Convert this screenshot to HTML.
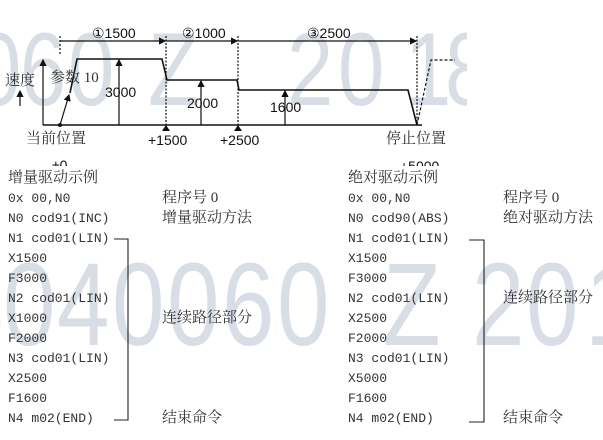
<!DOCTYPE html>
<html><head><meta charset="utf-8"><style>
html,body{margin:0;padding:0;background:#fff;}
body{width:603px;height:440px;overflow:hidden;position:relative;}
svg{position:absolute;left:0;top:0;}
.m{font-family:"Liberation Mono","Noto Sans CJK SC",monospace;font-size:13px;fill:#333;}
.c{font-family:"Liberation Serif","Noto Serif CJK SC",serif;font-size:15px;fill:#333;}
.d{font-family:"Liberation Sans",sans-serif;font-size:14px;fill:#111;}
.w{font-family:"Liberation Sans",sans-serif;fill:#d9dee6;}
</style></head><body>
<svg width="603" height="440" viewBox="0 0 603 440">
<defs><clipPath id="cp"><rect x="0" y="0" width="467" height="166"/></clipPath>
<marker id="ar" viewBox="0 0 6 6" refX="5" refY="3" markerWidth="6" markerHeight="6" orient="auto"><path d="M0,0L6,3L0,6z" fill="#111"/></marker></defs>
<g clip-path="url(#cp)" class="w" font-size="104">
<text transform="translate(-25,105) scale(0.8,1)">0</text>
<text transform="translate(20,105) scale(0.8,1)">6</text>
<text transform="translate(68,105) scale(0.8,1)">0</text>
<text transform="translate(148,105) scale(0.8,1)">Z</text>
<text transform="translate(287,105) scale(0.8,1)">2</text>
<text transform="translate(338,105) scale(0.8,1)">0</text>
<text transform="translate(405,105) scale(0.8,1)">1</text>
<text transform="translate(445,105) scale(0.8,1)">8</text>
</g>
<g class="w" font-size="118">
<text transform="translate(-48,345) scale(0.8,1)">8</text>
<text transform="translate(3,345) scale(0.8,1)">0</text>
<text transform="translate(57,345) scale(0.8,1)">4</text>
<text transform="translate(112,345) scale(0.8,1)">0</text>
<text transform="translate(167,345) scale(0.8,1)">0</text>
<text transform="translate(222,345) scale(0.8,1)">6</text>
<text transform="translate(277,345) scale(0.8,1)">0</text>
<text transform="translate(383,345) scale(0.8,1)">Z</text>
<text transform="translate(472,345) scale(0.8,1)">2</text>
<text transform="translate(526,345) scale(0.8,1)">0</text>
<text transform="translate(585,345) scale(0.8,1)">1</text>
</g>
<g stroke="#111" stroke-width="1.2" fill="none">
<line x1="60" y1="36" x2="60" y2="56" stroke-dasharray="2,2"/>
<line x1="166" y1="36" x2="166" y2="125" stroke-dasharray="2,1.5"/>
<line x1="238" y1="36" x2="238" y2="125" stroke-dasharray="2,1.5"/>
<line x1="417" y1="36" x2="417" y2="125" stroke-dasharray="2,1.5"/>
<line x1="60" y1="41" x2="165" y2="41" marker-end="url(#ar)"/>
<line x1="166" y1="41" x2="237" y2="41" marker-end="url(#ar)"/>
<line x1="238" y1="41" x2="416" y2="41" marker-end="url(#ar)"/>
<line x1="43" y1="125" x2="43" y2="60" marker-end="url(#ar)"/>
<line x1="43" y1="125" x2="422" y2="125" stroke-width="1.5"/>
<polyline points="70,93 77,59 162,59 167,80 237,80 239,90 408,90 417,125" stroke-width="1.6"/>
<polyline points="417,125 431,60 455,60" stroke-dasharray="3,2"/>
<line x1="60" y1="125" x2="69" y2="95" marker-end="url(#ar)"/>
<line x1="119" y1="125" x2="119" y2="60" marker-end="url(#ar)"/>
<line x1="201" y1="125" x2="201" y2="81" marker-end="url(#ar)"/>
<line x1="285" y1="125" x2="285" y2="91" marker-end="url(#ar)"/>
<line x1="20" y1="106" x2="20" y2="91" marker-end="url(#ar)"/>
</g>
<polygon points="166,125 162,131 170,131" fill="#111"/>
<polygon points="238,125 234,131 242,131" fill="#111"/>
<circle cx="60" cy="125" r="2" fill="#111"/>
<text class="d" x="92" y="38">①1500</text>
<text class="d" x="182" y="38">②1000</text>
<text class="d" x="307" y="38">③2500</text>
<text class="d" x="105" y="97">3000</text>
<text class="d" x="187" y="108">2000</text>
<text class="d" x="270" y="112">1600</text>
<text class="d" x="148" y="145">+1500</text>
<text class="d" x="220" y="145">+2500</text>
<text class="c" x="5" y="85" font-size="16">速度</text>
<text class="c" x="50" y="82" font-size="13">参数 10</text>
<text class="c" x="26" y="143" font-size="17">当前位置</text>
<text class="c" x="386" y="143" font-size="17">停止位置</text>
<g clip-path="url(#cp)">
<text class="d" x="52" y="170" font-size="12">±0</text>
<text class="d" x="400" y="171" font-size="12">+5000</text>
</g>
<text class="c" x="8" y="182">增量驱动示例</text>
<g class="m">
<text x="8" y="202">0x 00,N0</text>
<text x="8" y="222">N0 cod91(INC)</text>
<text x="8" y="242">N1 cod01(LIN)</text>
<text x="8" y="262">X1500</text>
<text x="8" y="282">F3000</text>
<text x="8" y="302">N2 cod01(LIN)</text>
<text x="8" y="322">X1000</text>
<text x="8" y="342">F2000</text>
<text x="8" y="362">N3 cod01(LIN)</text>
<text x="8" y="382">X2500</text>
<text x="8" y="402">F1600</text>
<text x="8" y="422">N4 m02(END)</text>
</g>
<text class="c" x="162" y="202">程序号 0</text>
<text class="c" x="162" y="222">增量驱动方法</text>
<text class="c" x="162" y="322">连续路径部分</text>
<text class="c" x="162" y="422">结束命令</text>
<polyline points="114,239 128,239 128,420 114,420" stroke="#222" stroke-width="1.1" fill="none"/>
<text class="c" x="348" y="182">绝对驱动示例</text>
<g class="m">
<text x="348" y="202">0x 00,N0</text>
<text x="348" y="222">N0 cod90(ABS)</text>
<text x="348" y="242">N1 cod01(LIN)</text>
<text x="348" y="262">X1500</text>
<text x="348" y="282">F3000</text>
<text x="348" y="302">N2 cod01(LIN)</text>
<text x="348" y="322">X2500</text>
<text x="348" y="342">F2000</text>
<text x="348" y="362">N3 cod01(LIN)</text>
<text x="348" y="382">X5000</text>
<text x="348" y="402">F1600</text>
<text x="348" y="422">N4 m02(END)</text>
</g>
<text class="c" x="503" y="202">程序号 0</text>
<text class="c" x="503" y="222">绝对驱动方法</text>
<text class="c" x="503" y="302">连续路径部分</text>
<text class="c" x="503" y="422">结束命令</text>
<polyline points="469,240 484,240 484,422 469,422" stroke="#222" stroke-width="1.1" fill="none"/>
</svg>
</body></html>
